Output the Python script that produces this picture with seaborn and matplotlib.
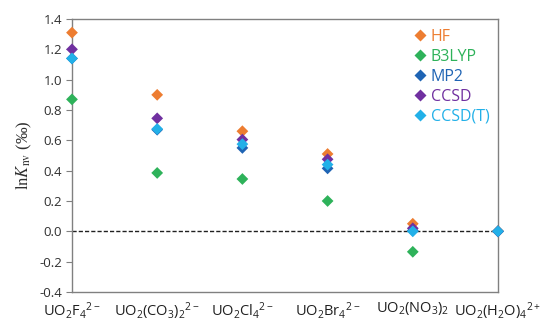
import matplotlib
matplotlib.use("Agg")
import matplotlib.pyplot as plt
import seaborn as sns
import pandas as pd

# complexes along the x axis
complexes = [r"UO$_2$F$_4$$^{2-}$", r"UO$_2$(CO$_3$)$_2$$^{2-}$", r"UO$_2$Cl$_4$$^{2-}$",
             r"UO$_2$Br$_4$$^{2-}$", r"UO$_2$(NO$_3$)$_2$", r"UO$_2$(H$_2$O)$_4$$^{2+}$"]
methods = ["HF", "B3LYP", "MP2", "CCSD", "CCSD(T)"]

# ln K_nv (permil)
hf = [1.31, 0.90, 0.66, 0.51, 0.05, 0.0]
b3lyp = [0.87, 0.385, 0.345, 0.20, -0.135, 0.0]
mp2 = [1.14, 0.67, 0.55, 0.415, 0.005, 0.0]
ccsd = [1.20, 0.745, 0.605, 0.475, 0.02, 0.0]
ccsd_t = [1.14, 0.675, 0.575, 0.44, 0.0, 0.0]

colors = ["#ED7D31", "#2EB25A", "#1F64B4", "#7030A0", "#22B0E8"]

sns.set_style("white")
plt.rcParams["font.family"] = ["Open Sans", "DejaVu Sans"]
plt.rcParams["mathtext.fontset"] = "custom"
plt.rcParams["mathtext.rm"] = "Open Sans"
plt.rcParams["mathtext.it"] = "Open Sans:italic"

rows = []
for name, vals in zip(methods, [hf, b3lyp, mp2, ccsd, ccsd_t]):
    for i, v in enumerate(vals):
        rows.append({"pos": i, "value": v, "method": name})
df = pd.DataFrame(rows)

fig = plt.figure(figsize=(5.47, 3.22), dpi=100)
ax = fig.add_axes([0.1316, 0.0932, 0.7788, 0.8478])

ax.axhline(0, color="#202020", linestyle=(0, (3, 1.5)), linewidth=1.0, zorder=1)

sns.scatterplot(data=df, x="pos", y="value", hue="method", hue_order=methods,
                palette=colors, marker="D", s=36, edgecolor="none",
                ax=ax, zorder=3, clip_on=False)

ax.set_xlim(0, 5)
ax.set_ylim(-0.4, 1.4)
ax.set_yticks([-0.4, -0.2, 0.0, 0.2, 0.4, 0.6, 0.8, 1.0, 1.2, 1.4])
ax.set_yticklabels([f"{t:.1f}" for t in ax.get_yticks()])
ax.set_xticks(range(len(complexes)))
ax.set_xticklabels(complexes, fontsize=10.5, color="#202020")
ax.tick_params(axis="x", length=0, pad=6)
ax.tick_params(axis="y", length=4, width=0.8, color="#808080",
               labelsize=9.5, labelcolor="#303030", pad=3, left=True)
ax.set_xlabel("")
ax.set_ylabel(r"$\mathrm{ln}\mathit{K}_{\mathrm{nv}}$ (‰)", fontsize=12,
              family="Liberation Serif", math_fontfamily="stix",
              color="#303030", labelpad=4)

for sp in ax.spines.values():
    sp.set_color("#808080")
    sp.set_linewidth(1.0)

leg = ax.legend(loc="upper left", bbox_to_anchor=(402 / 547, 1 - 21 / 322),
                bbox_transform=fig.transFigure, frameon=False, fontsize=11.5,
                handletextpad=0.1, labelspacing=0.25, borderpad=0,
                handlelength=1.2, markerscale=1.0)
for txt, c in zip(leg.get_texts(), colors):
    txt.set_color(c)

fig.savefig("out.png", dpi=100)
